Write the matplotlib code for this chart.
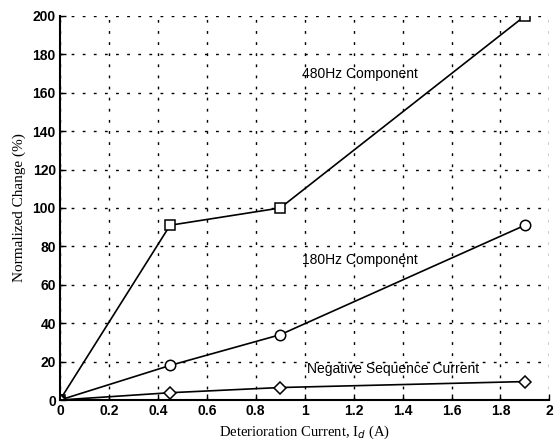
import numpy as np
import matplotlib
matplotlib.use("Agg")
import matplotlib.pyplot as plt

# data
current = [0, 0.45, 0.9, 1.9]
comp480 = [0, 91, 100, 200]
comp180 = [0, 18, 34, 91]
negseq = [0, 3.8, 6.5, 9.6]

xticks = [0, 0.2, 0.4, 0.6, 0.8, 1, 1.2, 1.4, 1.6, 1.8, 2]
xticklabels = ["0", "0.2", "0.4", "0.6", "0.8", "1", "1.2", "1.4", "1.6", "1.8", "2"]
yticks = [0, 20, 40, 60, 80, 100, 120, 140, 160, 180, 200]

fig = plt.figure(figsize=(5.55, 4.42), dpi=100)
ax = fig.add_axes([0.108, 0.095, 0.882, 0.869])

ax.plot(current, comp480, color="black", lw=1.2, marker="s", ms=7.5, mfc="white", mec="black", mew=1.1)
ax.plot(current, comp180, color="black", lw=1.2, marker="o", ms=7.5, mfc="white", mec="black", mew=1.1)
ax.plot(current, negseq, color="black", lw=1.2, marker="D", ms=6.5, mfc="white", mec="black", mew=1.1)

ax.text(0.99, 170, "480Hz Component", fontsize=10, family="Liberation Sans", va="center")
ax.text(0.99, 73, "180Hz Component", fontsize=10, family="Liberation Sans", va="center")
ax.text(1.01, 16, "Negative Sequence Current", fontsize=10, family="Liberation Sans", va="center")

ax.set_xlim(0, 2)
ax.set_ylim(0, 200)
ax.set_xticks(xticks)
ax.set_xticklabels(xticklabels)
ax.set_yticks(yticks)
for lab in ax.get_xticklabels() + ax.get_yticklabels():
    lab.set_family("Liberation Sans")
    lab.set_fontsize(10)
    lab.set_fontweight("bold")
ax.tick_params(direction="in", length=4, width=1, pad=3)

ax.grid(True, color="black", lw=1, ls=(0, (2, 6)))
ax.spines["top"].set_visible(False)
ax.spines["right"].set_visible(False)
ax.spines["left"].set_linewidth(1.5)
ax.spines["bottom"].set_linewidth(1.5)

ax.set_xlabel("Deterioration Current, I$_d$ (A)", family="Liberation Serif", fontsize=10.5, labelpad=4)
ax.set_ylabel("Normalized Change (%)", family="Liberation Serif", fontsize=11, labelpad=5)

fig.savefig("out.png", dpi=100)
